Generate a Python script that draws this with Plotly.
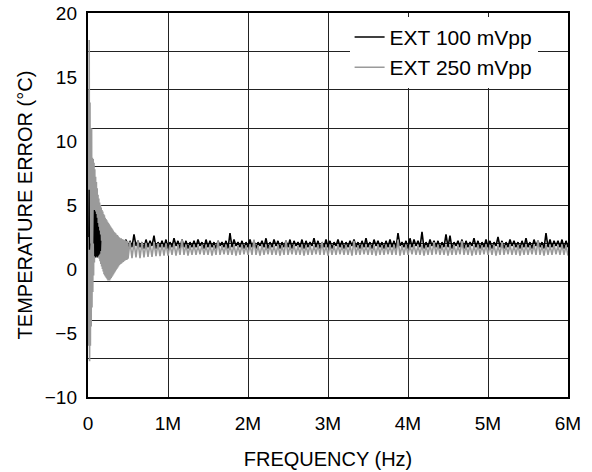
import numpy as np
import plotly.graph_objects as go

# ---------------- data ----------------
x_tick_vals = [0, 1e6, 2e6, 3e6, 4e6, 5e6, 6e6]
x_tick_text = ["0", "1M", "2M", "3M", "4M", "5M", "6M"]
y_label_vals = [-10, -5, 0, 5, 10, 15, 20]
y_label_text = ["\u221210", "\u22125", "0", "5", "10", "15", "20"]
y_grid_vals = [-10, -7, -4, -1, 2, 5, 8, 11, 14, 17, 20]

# EXT 100 mVpp, start-up transient (MHz, °C)
black_early_f = [0.010, 0.014, 0.018, 0.022, None,
                 0.075, 0.080, 0.085, 0.090, 0.095, 0.100, 0.105, 0.110, 0.115,
                 0.120, 0.125, 0.130, 0.135, 0.140, 0.145, 0.150, 0.155, 0.160]
black_early_v = [2.5, 6.2, 1.5, 2.0, None,
                 2.0, 4.6, 1.0, 4.5, 0.9, 4.3, 1.0, 4.0, 0.9,
                 3.6, 1.0, 3.3, 1.1, 3.0, 1.2, 2.7, 1.4, 2.2]

# EXT 100 mVpp, 0.175 MHz .. 6 MHz sweep
black_f_start, black_f_stop = 0.175e6, 6.0e6
black_main = [
    2.2, 1.7, 2.1, 1.6, 2.3, 1.7, 2.0, 1.6, 2.2, 1.8,
    2.1, 1.7, 2.3, 1.6, 2.2, 1.7, 2.7, 1.8, 2.2, 1.7,
    2.1, 1.6, 2.3, 1.7, 2.2, 1.8, 2.6, 1.6, 2.1, 1.7,
    2.2, 1.7, 2.3, 1.6, 2.1, 1.7, 2.4, 1.8, 2.2, 1.6,
    2.3, 1.7, 2.2, 1.6, 2.1, 1.7, 2.2, 1.7, 2.3, 1.8,
    2.1, 1.6, 2.3, 1.7, 2.2, 1.7, 2.1, 1.6, 2.2, 1.8,
    2.1, 1.7, 2.2, 1.6, 2.8, 1.7, 2.3, 1.8, 2.1, 1.7,
    2.2, 1.6, 2.1, 1.7, 2.3, 1.7, 2.2, 1.6, 2.1, 1.8,
    2.2, 1.7, 2.4, 1.6, 2.1, 1.7, 2.3, 1.8, 2.2, 1.6,
    2.1, 1.7, 2.2, 1.7, 2.3, 1.6, 2.2, 1.8, 2.1, 1.7,
    2.3, 1.6, 2.2, 1.7, 2.1, 1.8, 2.4, 1.7, 2.2, 1.6,
    2.1, 1.7, 2.3, 1.7, 2.2, 1.6, 2.1, 1.8, 2.3, 1.7,
    2.2, 1.6, 2.1, 1.7, 2.2, 1.8, 2.3, 1.7, 2.1, 1.6,
    2.2, 1.7, 2.4, 1.7, 2.1, 1.6, 2.3, 1.8, 2.2, 1.7,
    2.1, 1.6, 2.2, 1.7, 2.3, 1.7, 2.2, 1.6, 2.8, 1.8,
    2.1, 1.7, 2.2, 1.6, 2.4, 1.7, 2.3, 1.8, 2.2, 1.7,
    2.9, 1.6, 2.1, 1.7, 2.3, 1.8, 2.2, 1.7, 2.2, 1.6,
    2.1, 1.7, 2.7, 1.7, 2.6, 1.6, 2.1, 1.8, 2.2, 1.7,
    2.3, 1.6, 2.2, 1.7, 2.1, 1.8, 2.4, 1.7, 2.2, 1.6,
    2.1, 1.7, 2.3, 1.7, 2.2, 1.6, 2.1, 1.8, 2.5, 1.7,
    2.2, 1.6, 2.1, 1.7, 2.3, 1.8, 2.2, 1.7, 2.1, 1.6,
    2.2, 1.7, 2.4, 1.7, 2.1, 1.6, 2.3, 1.8, 2.2, 1.7,
    2.1, 1.6, 2.8, 1.7, 2.3, 1.7, 2.2, 1.8, 2.2, 1.7,
    2.3, 1.6, 2.2, 1.7,
]

# EXT 250 mVpp, 0 .. 0.5 MHz (fine sweep)
gray_early_start, gray_early_stop = 0.0, 0.5e6
gray_early = [
    2.0,
    14.0, -6.0, 17.9, -7.2, 13.0, -6.0, 10.0, -4.5, 11.0, -3.0,
    8.7, -1.8, 8.6, -0.5, 8.3, 0.5, 7.8, 1.0, 7.2, 1.3,
    6.8, 1.2, 6.3, 1.0, 5.8, 0.9, 5.5, 0.8, 5.2, 0.6,
    5.0, 0.4, 4.8, 0.2, 4.6, 0.0, 4.5, -0.2, 4.3, -0.4,
    4.2, -0.5, 4.0, -0.6, 3.9, -0.7, 3.8, -0.8, 3.7, -0.9,
    3.6, -0.9, 3.5, -0.9, 3.4, -0.8, 3.3, -0.7, 3.2, -0.6,
    3.1, -0.5, 3.0, -0.4, 2.9, -0.3, 2.85, -0.2, 2.8, -0.1,
    2.7, 0.0, 2.65, 0.1, 2.6, 0.2, 2.5, 0.3, 2.45, 0.35,
    2.4, 0.4, 2.4, 0.45, 2.35, 0.5, 2.3, 0.55, 2.3, 0.6,
    2.25, 0.65, 2.25, 0.7, 2.2, 0.7, 2.2, 0.75, 2.2, 0.8,
]

# EXT 250 mVpp, 0.525 .. 6 MHz
gray_main_start, gray_main_stop = 0.525e6, 6.0e6
gray_main = [
    2.15, 0.85, 2.1, 0.9, 2.2, 0.85, 2.1, 0.9, 2.05, 0.95,
    2.0, 0.95, 2.1, 1.0, 2.0, 1.0, 1.95, 1.05, 2.0, 1.05,
    1.9, 1.1, 2.0, 1.05, 1.9, 1.1, 2.3, 1.1, 1.9, 1.05,
    1.85, 1.1, 1.9, 1.1, 1.85, 1.15, 1.9, 1.1, 1.85, 1.1,
    1.9, 1.05, 1.85, 1.1, 2.2, 1.1, 1.85, 1.15, 1.9, 1.1,
    1.85, 1.1, 1.9, 1.05, 1.85, 1.1, 1.9, 1.15, 1.85, 1.1,
    1.9, 1.1, 2.3, 1.1, 1.85, 1.05, 1.9, 1.1, 1.85, 1.15,
    1.9, 1.1, 1.85, 1.1, 1.9, 1.05, 1.85, 1.1, 2.2, 1.1,
    1.85, 1.15, 1.9, 1.1, 1.85, 1.1, 1.9, 1.05, 1.85, 1.1,
    1.9, 1.1, 1.85, 1.15, 1.9, 1.1, 2.1, 1.1, 1.85, 1.05,
    1.9, 1.1, 1.85, 1.1, 1.9, 1.15, 1.85, 1.1, 1.9, 1.1,
    1.85, 1.05, 2.2, 1.1, 1.85, 1.1, 1.9, 1.15, 1.85, 1.1,
    1.9, 1.1, 1.85, 1.05, 1.9, 1.1, 1.85, 1.1, 1.9, 1.15,
    1.85, 1.1, 1.9, 1.1, 2.3, 1.05, 1.85, 1.1, 1.9, 1.1,
    1.85, 1.15, 1.9, 1.1, 1.85, 1.1, 1.9, 1.05, 1.85, 1.1,
    1.9, 1.1, 2.1, 1.15, 1.9, 1.1, 1.85, 1.1, 1.9, 1.05,
    1.85, 1.1, 1.9, 1.1, 1.85, 1.15, 2.2, 1.1, 1.85, 1.1,
    1.9, 1.05, 1.85, 1.1, 1.9, 1.1, 1.85, 1.15, 1.9, 1.1,
    1.85, 1.1, 1.9, 1.05, 1.85, 1.1, 2.1, 1.1, 1.85, 1.15,
    1.9, 1.1, 1.85, 1.1, 1.9, 1.05, 1.85, 1.1, 1.9, 1.1,
    1.85, 1.15, 1.9, 1.1, 2.2, 1.1, 1.85, 1.05, 1.9, 1.1,
    1.85, 1.1, 1.9, 1.15, 1.85, 1.1, 1.9, 1.1, 1.85, 1.05,
]

# ---------------- build ----------------
black_x = np.linspace(black_f_start, black_f_stop, len(black_main))
gray_x = np.concatenate([
    np.linspace(gray_early_start, gray_early_stop, len(gray_early)),
    np.linspace(gray_main_start, gray_main_stop, len(gray_main)),
])
gray_y = gray_early + gray_main
black_early_x = [f * 1e6 if f is not None else None for f in black_early_f]

FONT = "Liberation Sans, Arial, Helvetica, sans-serif"
BLACK = "#000000"
GRAY = "#9a9a9a"

fig = go.Figure()
fig.add_trace(go.Scatter(
    x=black_x, y=black_main, mode="lines", name="EXT 100 mVpp",
    line=dict(color=BLACK, width=1.6), legendgroup="b",
    xaxis="x", yaxis="y",
))
fig.add_trace(go.Scatter(
    x=gray_x, y=gray_y, mode="lines", name="EXT 250 mVpp",
    line=dict(color=GRAY, width=1.6),
    xaxis="x", yaxis="y2",
))
fig.add_trace(go.Scatter(
    x=black_early_x, y=black_early_v, mode="lines", name="EXT 100 mVpp",
    line=dict(color=BLACK, width=1.3), legendgroup="b", showlegend=False,
    connectgaps=False, xaxis="x", yaxis="y2",
))

fig.update_layout(
    template="none",
    width=592, height=472,
    margin=dict(l=88, r=24, t=13, b=75, autoexpand=False),
    paper_bgcolor="white", plot_bgcolor="white",
    font=dict(family=FONT, size=19, color="black"),
    showlegend=True,
    legend=dict(
        x=0.545, y=0.99, xanchor="left", yanchor="top",
        bgcolor="white", borderwidth=0,
        font=dict(family=FONT, size=21, color="black"),
        tracegroupgap=0, itemwidth=30,
    ),
    xaxis=dict(
        range=[0, 6e6], tickvals=x_tick_vals, ticktext=x_tick_text,
        showgrid=True, gridcolor="#222222", gridwidth=1,
        zeroline=False, showline=True, linecolor="black", linewidth=2,
        mirror=True, ticks="", ticklabelstandoff=8, automargin=False,
        title=dict(text="FREQUENCY (Hz)", font=dict(size=20), standoff=19),
        tickfont=dict(size=19),
    ),
    yaxis=dict(
        range=[-10, 20], tickvals=y_grid_vals, showticklabels=False,
        showgrid=True, gridcolor="#222222", gridwidth=1,
        zeroline=False, showline=True, linecolor="black", linewidth=2,
        mirror=True, ticks="", automargin=False,
    ),
    yaxis2=dict(
        range=[-10, 20], overlaying="y", side="left",
        tickvals=y_label_vals, ticktext=y_label_text,
        showgrid=False, zeroline=False, showline=False, ticks="",
        ticklabelstandoff=10, tickfont=dict(size=19), automargin=False,
        title=dict(text="TEMPERATURE ERROR (\u00b0C)", font=dict(size=20), standoff=6),
    ),
)

fig.write_html("out.html", config={"displayModeBar": False},
               post_script="document.body.style.margin='0px';")
